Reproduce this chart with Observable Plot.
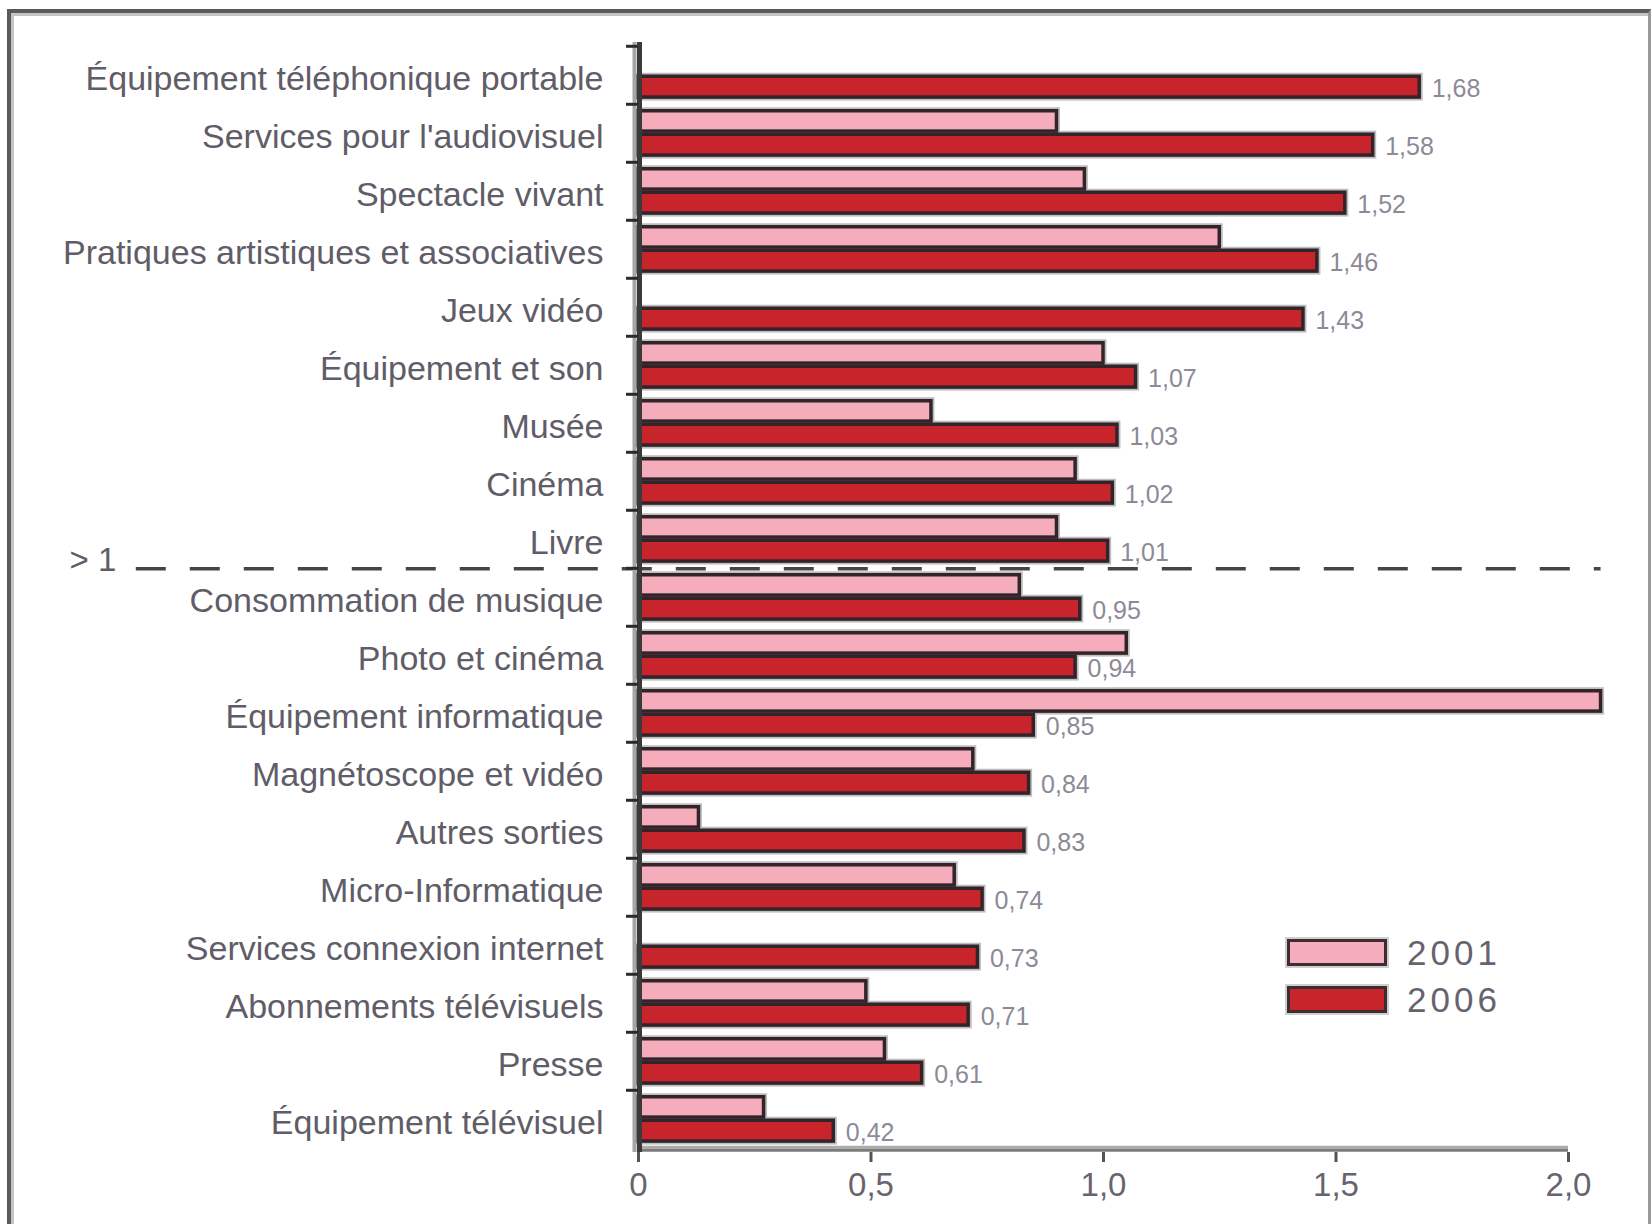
<!DOCTYPE html>
<html>
<head>
<meta charset="utf-8">
<script src="https://cdn.jsdelivr.net/npm/d3@7"></script>
<script src="https://cdn.jsdelivr.net/npm/@observablehq/plot@0.6"></script>
<style>
  body { margin: 0; background: #fff; }
  #wrap { position: relative; width: 1652px; height: 1224px; overflow: hidden; font-family: "Liberation Sans", Arial, sans-serif; }
  #frame { position: absolute; left: 7px; top: 9px; width: 1637px; height: 1400px; border-left: 4px solid #5a5a5a; border-top: 4px solid #5a5a5a; border-right: 3px solid #9a9a9a; box-shadow: inset 3px 3px 0 #c4c4c4; pointer-events: none; }
  .legend-item { position: absolute; left: 1287px; display: flex; align-items: center; }
  .swatch { width: 100px; height: 27px; box-sizing: border-box; border: 3px solid #3e2c30; box-shadow: 0 0 0 2px #cfcfcf; }
  .legend-text { margin-left: 20px; font-size: 35px; letter-spacing: 4px; color: #66636e; line-height: 27px; }
</style>
</head>
<body>
<div id="wrap"></div>
<script>
const categories = [
  "Équipement téléphonique portable",
  "Services pour l'audiovisuel",
  "Spectacle vivant",
  "Pratiques artistiques et associatives",
  "Jeux vidéo",
  "Équipement et son",
  "Musée",
  "Cinéma",
  "Livre",
  "Consommation de musique",
  "Photo et cinéma",
  "Équipement informatique",
  "Magnétoscope et vidéo",
  "Autres sorties",
  "Micro-Informatique",
  "Services connexion internet",
  "Abonnements télévisuels",
  "Presse",
  "Équipement télévisuel"
];
const values2001 = [null, 0.90, 0.96, 1.25, null, 1.00, 0.63, 0.94, 0.90, 0.82, 1.05, 2.07, 0.72, 0.13, 0.68, null, 0.49, 0.53, 0.27];
const values2006 = [1.68, 1.58, 1.52, 1.46, 1.43, 1.07, 1.03, 1.02, 1.01, 0.95, 0.94, 0.85, 0.84, 0.83, 0.74, 0.73, 0.71, 0.61, 0.42];
const seriesNames = ["2001", "2006"];
const xTicks = [0, 0.5, 1, 1.5, 2];
const xTickLabels = ["0", "0,5", "1,0", "1,5", "2,0"];
const thresholdLabel = "> 1";
const thresholdAfter = "Livre";

// layout / style constants
const W = 1652, H = 1224;
const mL = 638, mR = 84, mT = 42, mB = 72;
const step = (H - mT - mB) / categories.length;
const pink = "#f5adbb", red = "#c8242c", edge = "#33242a", halo = "#bdbdbd";
const thresholdExtent = [-1.08, 2.07];

const d2001 = categories.map((c, i) => ({category: c, series: seriesNames[0], value: values2001[i]})).filter(d => d.value != null);
const d2006 = categories.map((c, i) => ({category: c, series: seriesNames[1], value: values2006[i]}));

const fmt = v => v.toFixed(2).replace(".", ",");
const ins2001 = {insetTop: 6.75, insetBottom: step - 27.5};
const ins2006 = {insetTop: 30.25, insetBottom: step - 51.5};

const chart = Plot.plot({
  width: W, height: H,
  marginLeft: mL, marginRight: mR, marginTop: mT, marginBottom: mB,
  style: {fontFamily: "'Liberation Sans', Arial, sans-serif", background: "#fff", overflow: "visible"},
  x: {domain: [0, 2], label: null},
  y: {type: "band", domain: categories, padding: 0, label: null},
  marks: [
    // halos
    Plot.barX(d2001, {x: "value", y: "category", fill: "none", stroke: halo, strokeWidth: 7, ...ins2001}),
    Plot.barX(d2006, {x: "value", y: "category", fill: "none", stroke: halo, strokeWidth: 7, ...ins2006}),
    // bars
    Plot.barX(d2001, {x: "value", y: "category", fill: pink, stroke: edge, strokeWidth: 3.5, ...ins2001}),
    Plot.barX(d2006, {x: "value", y: "category", fill: red, stroke: edge, strokeWidth: 3.5, ...ins2006}),
    // value labels
    Plot.text(d2006, {x: "value", y: "category", text: d => fmt(d.value), textAnchor: "start", dx: 12, dy: 13, fontSize: 25, fill: "#8d8a98", ariaLabel: "values"}),
    // threshold dashed line
    Plot.ruleY([thresholdAfter], {y: d => d, dy: step / 2, x1: thresholdExtent[0], x2: thresholdExtent[1], stroke: "#454545", strokeWidth: 3.5, strokeDasharray: "30,24"}),
    Plot.text([thresholdLabel], {x: thresholdExtent[0], y: () => thresholdAfter, text: d => d, textAnchor: "end", dx: -20, dy: step / 2 - 8, fontSize: 33, fill: "#605c68"}),
    // x axis line (two-tone)
    Plot.ruleY([categories[categories.length - 1]], {y: d => d, dy: step / 2 - 1.5, x1: 0, x2: 2, stroke: "#ababab", strokeWidth: 3}),
    Plot.ruleY([categories[categories.length - 1]], {y: d => d, dy: step / 2 + 1.5, x1: 0, x2: 2, stroke: "#7a7a7a", strokeWidth: 3}),
    Plot.axisX({ticks: xTicks, tickFormat: d => xTickLabels[xTicks.indexOf(d)], tickSize: 10, tickPadding: 10, fontSize: 33, stroke: "#555", strokeWidth: 3, fill: "#67646f"}),
    // y axis line (two-tone)
    Plot.ruleX([0], {dx: -4, stroke: "#a5a5a5", strokeWidth: 4}),
    Plot.ruleX([0], {dx: 1, stroke: "#3a3a3a", strokeWidth: 5}),
    // y axis ticks at band boundaries
    Plot.axisY({tickSize: 12, dy: -step / 2, tickFormat: () => "", stroke: "#2a2a2a", strokeWidth: 3}),
    // category labels
    Plot.axisY({tickSize: 0, tickPadding: 35, dy: 4, fontSize: 34, fill: "#605c68"})
  ]
});

d3.select(chart).selectAll('g[aria-label="values"] text').style("letter-spacing", "3.5px");

const wrap = document.getElementById("wrap");
wrap.appendChild(chart);

const legend = [
  {name: seriesNames[0], color: pink, top: 939},
  {name: seriesNames[1], color: red, top: 986}
];
for (const l of legend) {
  const item = document.createElement("div");
  item.className = "legend-item";
  item.style.top = l.top + "px";
  const sw = document.createElement("div");
  sw.className = "swatch";
  sw.style.background = l.color;
  const tx = document.createElement("div");
  tx.className = "legend-text";
  tx.textContent = l.name;
  item.appendChild(sw);
  item.appendChild(tx);
  wrap.appendChild(item);
}
const frame = document.createElement("div");
frame.id = "frame";
wrap.appendChild(frame);
</script>
</body>
</html>
